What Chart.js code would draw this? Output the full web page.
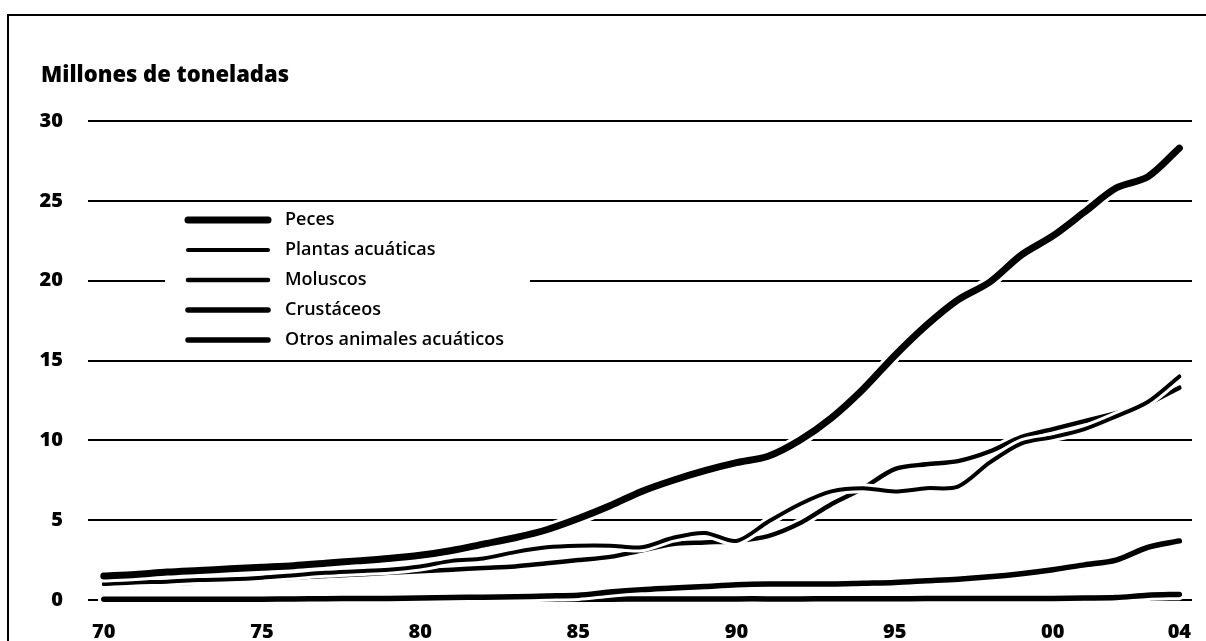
<!DOCTYPE html>
<html>
<head>
<meta charset="utf-8">
<script src="https://cdn.jsdelivr.net/npm/chart.js@4.4.1/dist/chart.umd.min.js"></script>
<style>
  html, body { margin: 0; padding: 0; background: #fff; }
  #wrap { width: 1206px; height: 641px; position: relative; }
</style>
</head>
<body>
<div id="wrap"><canvas id="grafico"></canvas></div>
<script>
const anos = [1970,1971,1972,1973,1974,1975,1976,1977,1978,1979,
              1980,1981,1982,1983,1984,1985,1986,1987,1988,1989,
              1990,1991,1992,1993,1994,1995,1996,1997,1998,1999,
              2000,2001,2002,2003,2004];

const ticksX = [1970, 1975, 1980, 1985, 1990, 1995, 2000, 2004];
const rotulosX = ["70", "75", "80", "85", "90", "95", "00", "04"];
const ticksY = [0, 5, 10, 15, 20, 25, 30];

const titulo = "Millones de toneladas";

const peces = [1.5,1.6,1.75,1.85,1.95,2.05,2.15,2.3,2.45,2.6,
               2.8,3.1,3.5,3.9,4.4,5.1,5.9,6.8,7.5,8.1,
               8.6,9.0,10.0,11.4,13.2,15.3,17.2,18.8,19.9,21.6,
               22.8,24.3,25.8,26.5,28.3];

const plantas = [1.0,1.1,1.15,1.25,1.3,1.4,1.55,1.7,1.8,1.9,
                 2.1,2.45,2.6,3.0,3.3,3.4,3.4,3.3,3.9,4.2,
                 3.7,4.9,6.0,6.8,7.0,6.8,7.0,7.1,8.6,9.8,
                 10.2,10.7,11.5,12.4,14.0];

const moluscos = [0.9,1.0,1.05,1.1,1.2,1.3,1.4,1.5,1.6,1.7,
                  1.8,1.9,2.0,2.1,2.3,2.5,2.7,3.1,3.5,3.6,
                  3.7,4.0,4.8,6.0,7.0,8.2,8.5,8.7,9.3,10.2,
                  10.7,11.2,11.7,12.3,13.3];

const crustaceos = [0.05,0.05,0.05,0.05,0.05,0.05,0.07,0.08,0.1,0.1,
                    0.12,0.15,0.18,0.2,0.25,0.3,0.5,0.65,0.75,0.85,
                    0.95,1.0,1.0,1.0,1.05,1.1,1.2,1.3,1.45,1.65,
                    1.9,2.2,2.5,3.3,3.7];

const otros = [0.02,0.02,0.02,0.02,0.02,0.02,0.03,0.03,0.03,0.03,
               0.04,0.04,0.04,0.05,0.05,0.05,0.05,0.06,0.06,0.06,
               0.07,0.07,0.07,0.08,0.08,0.08,0.09,0.09,0.1,0.1,
               0.1,0.12,0.15,0.3,0.35];

const series = [
  { nombre: "Peces", datos: peces, grosor: 7 },
  { nombre: "Plantas acuáticas", datos: plantas, grosor: 4 },
  { nombre: "Moluscos", datos: moluscos, grosor: 4.5 },
  { nombre: "Crustáceos", datos: crustaceos, grosor: 5.5 },
  { nombre: "Otros animales acuáticos", datos: otros, grosor: 5.5 }
];

// cada linea va con un halo blanco debajo (como en el original)
const datasets = [];
series.forEach(s => {
  datasets.push({
    label: s.nombre, data: s.datos, borderColor: "#000", borderWidth: s.grosor,
    pointRadius: 0, tension: 0.3, borderCapStyle: "round", borderJoinStyle: "round", clip: false
  });
  datasets.push({
    label: "halo", data: s.datos, borderColor: "#fff", borderWidth: s.grosor + 6,
    pointRadius: 0, tension: 0.3, borderCapStyle: "round", borderJoinStyle: "round", clip: false
  });
});

const marco = {
  id: "marco",
  afterDraw(chart) {
    const ctx = chart.ctx;
    ctx.save();
    // borde
    ctx.strokeStyle = "#000";
    ctx.lineWidth = 2;
    ctx.beginPath();
    ctx.moveTo(8, 641);
    ctx.lineTo(8, 15);
    ctx.lineTo(1206, 15);
    ctx.stroke();

    // titulo
    ctx.fillStyle = "#000";
    ctx.font = "800 22px 'Open Sans'";
    ctx.textBaseline = "middle";
    ctx.textAlign = "left";
    ctx.fillText(titulo, 41, 76);

    // leyenda
    ctx.fillStyle = "#fff";
    ctx.fillRect(165, 205, 365, 150);
    ctx.lineCap = "round";
    ctx.font = "600 18px 'Open Sans'";
    chart.data.datasets.filter(d => d.label !== "halo").forEach((d, i) => {
      const y = 220 + i * 30;
      ctx.strokeStyle = "#000";
      ctx.lineWidth = d.borderWidth;
      ctx.beginPath();
      ctx.moveTo(188, y);
      ctx.lineTo(268, y);
      ctx.stroke();
      ctx.fillStyle = "#000";
      ctx.fillText(d.label, 285, y);
    });
    ctx.restore();
  }
};

new Chart(document.getElementById("grafico"), {
  type: "line",
  data: { labels: anos, datasets: datasets },
  options: {
    responsive: true,
    maintainAspectRatio: false,
    animation: false,
    layout: { padding: { top: 121, right: 14, left: 0, bottom: 0 } },
    plugins: { legend: { display: false }, tooltip: { enabled: false } },
    scales: {
      x: {
        type: "linear",
        min: 1969.5,
        max: 2004.4,
        afterBuildTicks: (scale) => { scale.ticks = ticksX.map(v => ({ value: v })); },
        afterFit: (scale) => { scale.height = 41; },
        grid: { display: false },
        border: { display: false },
        ticks: {
          padding: 12,
          color: "#000",
          font: { family: "Open Sans", weight: "800", size: 20 },
          callback: (v, i) => rotulosX[i]
        }
      },
      y: {
        min: 0,
        max: 30,
        afterBuildTicks: (scale) => { scale.ticks = ticksY.map(v => ({ value: v })); },
        afterFit: (scale) => { scale.width = 88; },
        grid: { color: "#000", lineWidth: 2, drawTicks: false },
        border: { display: false },
        ticks: {
          padding: 25,
          color: "#000",
          font: { family: "Open Sans", weight: "800", size: 20 }
        }
      }
    }
  },
  plugins: [marco]
});
</script>
</body>
</html>
